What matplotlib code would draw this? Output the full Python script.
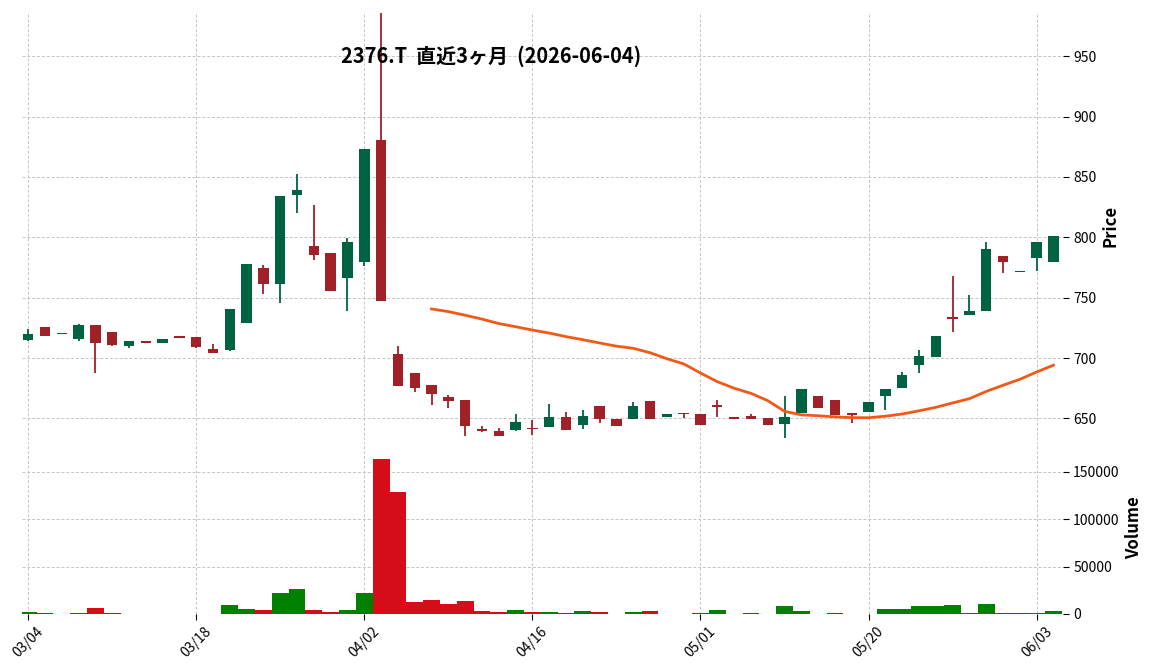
import numpy as np
import pandas as pd
import matplotlib
matplotlib.use("Agg")
import matplotlib.pyplot as plt

# trading days (2026)
dates = ["03/04", "03/05", "03/06", "03/09", "03/10", "03/11", "03/12", "03/13", "03/16", "03/17",
         "03/18", "03/19", "03/23", "03/24", "03/25", "03/26", "03/27", "03/30", "03/31", "04/01",
         "04/02", "04/03", "04/06", "04/07", "04/08", "04/09", "04/10", "04/13", "04/14", "04/15",
         "04/16", "04/17", "04/20", "04/21", "04/22", "04/23", "04/24", "04/27", "04/28", "04/30",
         "05/01", "05/07", "05/08", "05/11", "05/12", "05/13", "05/14", "05/15", "05/18", "05/19",
         "05/20", "05/21", "05/22", "05/25", "05/26", "05/27", "05/28", "05/29", "06/01", "06/02",
         "06/03", "06/04"]

opens = [715.2, 725.5, 720.5, 716.0, 727.0, 721.3, 710.2, 713.3, 712.7, 717.5,
         717.7, 707.8, 706.9, 729.4, 774.2, 761.0, 835.0, 793.2, 786.6, 766.0,
         779.9, 880.5, 703.7, 688.0, 677.7, 667.7, 665.2, 640.3, 639.5, 640.3,
         641.7, 642.8, 651.1, 644.5, 660.2, 649.7, 649.7, 664.7, 651.1, 654.2,
         653.6, 660.2, 650.3, 652.0, 650.5, 645.3, 654.7, 668.8, 665.2, 653.6,
         655.3, 668.8, 675.5, 694.6, 701.2, 733.1, 735.3, 738.6, 784.9, 771.0,
         782.7, 779.9]
highs = [724.0, 725.5, 720.5, 728.0, 727.0, 721.3, 713.8, 713.3, 716.0, 717.5,
         717.7, 712.0, 741.0, 777.6, 777.3, 834.0, 852.8, 827.0, 786.6, 799.6,
         873.0, 985.5, 709.6, 688.0, 677.7, 669.4, 665.2, 643.6, 641.7, 653.3,
         648.6, 661.6, 655.0, 657.0, 660.2, 649.7, 663.6, 664.7, 653.6, 654.2,
         653.6, 665.2, 650.3, 654.0, 650.5, 668.3, 674.4, 668.8, 665.2, 653.6,
         663.6, 674.4, 688.8, 706.8, 718.4, 767.7, 752.0, 796.3, 784.9, 772.4,
         795.7, 801.0]
lows = [714.0, 718.6, 720.5, 714.0, 687.5, 710.0, 708.0, 713.3, 712.7, 717.5,
        708.0, 704.4, 706.0, 729.4, 753.0, 745.7, 820.4, 781.0, 755.8, 738.6,
        776.0, 747.5, 676.9, 672.0, 661.0, 659.0, 635.6, 639.0, 635.3, 640.0,
        636.0, 642.8, 640.3, 641.4, 646.4, 643.6, 649.7, 649.7, 651.1, 650.5,
        644.5, 650.8, 650.3, 649.7, 644.5, 634.2, 654.7, 658.9, 652.8, 646.0,
        655.3, 656.6, 675.0, 687.4, 701.2, 721.5, 735.3, 738.6, 770.5, 771.0,
        772.4, 779.9]
closes = [719.7, 718.6, 720.5, 727.0, 712.7, 711.0, 713.8, 713.3, 716.0, 717.5,
          709.4, 704.4, 741.0, 777.6, 761.0, 834.0, 839.0, 785.7, 755.8, 795.7,
          873.0, 747.5, 676.9, 675.5, 670.2, 664.7, 643.6, 640.3, 635.3, 647.0,
          641.7, 651.1, 640.3, 651.9, 649.4, 643.6, 660.2, 649.7, 653.6, 654.2,
          644.5, 660.2, 650.3, 649.7, 644.5, 651.1, 674.4, 658.9, 652.8, 653.6,
          663.6, 674.4, 686.0, 701.8, 718.4, 733.1, 739.2, 790.4, 779.4, 772.4,
          795.7, 801.0]
volumes = [2100, 1000, 0, 1000, 6600, 1000, 300, 0, 300, 0,
           300, 300, 9400, 5200, 4200, 22000, 26200, 4200, 2100, 4200,
           22000, 163300, 128800, 12600, 14700, 10500, 13600, 3100, 2100, 4200,
           2100, 2100, 1000, 3100, 2100, 200, 2100, 3100, 200, 0,
           1000, 4200, 0, 1000, 200, 8700, 3100, 200, 1000, 0,
           200, 5200, 5200, 8700, 8700, 9800, 1000, 10800, 1000, 1000,
           1000, 3100]

title = "2376.T  直近3ヶ月  (2026-06-04)"

up_c, down_c = "#006340", "#a02128"
vup_c, vdown_c = "#008000", "#d50d18"
ma_c = "#f05a16"
jp = ["Noto Sans CJK JP", "DejaVu Sans"]
plt.rcParams["font.family"] = jp

o = np.array(opens)
h = np.array(highs)
l = np.array(lows)
c = np.array(closes)
v = np.array(volumes)
x = np.arange(len(c))

ccol = [up_c if cc > oo else down_c for oo, cc in zip(o, c)]
prev = np.r_[c[0] - 1, c[:-1]]
vcol = [vup_c if cc > pp else vdown_c for pp, cc in zip(prev, c)]
ma25 = pd.Series(c).rolling(25).mean()

fig = plt.figure(figsize=(11.52, 6.70), dpi=100)
ax = fig.add_axes([0.019, 0.343, 0.9035, 0.639])
axv = fig.add_axes([0.019, 0.0836, 0.9035, 0.2564], sharex=ax)

gridkw = dict(linestyle=(0, (3, 2)), color="#c4c4c4", linewidth=0.7)

# candles
ax.vlines(x, l, h, colors=ccol, linewidth=1.3, zorder=3)
body = np.maximum(np.abs(c - o), 1.3)
ax.bar(x, body, bottom=np.minimum(o, c) - np.where(np.abs(c - o) < 1.3, 0.65, 0),
       width=0.62, color=ccol, linewidth=0, zorder=4)
ax.plot(x, ma25, color=ma_c, linewidth=2.0, zorder=5)

ax.set_xlim(-0.37, 61.55)
ax.set_ylim(632, 986.5)
ax.set_yticks([650, 700, 750, 800, 850, 900, 950])
ax.yaxis.tick_right()
ax.yaxis.set_label_position("right")
ax.set_ylabel("Price", fontsize=12, fontweight="bold", labelpad=4)
ax.tick_params(axis="x", bottom=False, labelbottom=False)
ax.tick_params(axis="y", length=4, labelsize=10)
ax.grid(True, **gridkw)
ax.set_axisbelow(True)
for s in ax.spines.values():
    s.set_visible(False)

# volume
axv.bar(x, v, width=1.0, color=vcol, linewidth=0, zorder=3)
axv.set_ylim(0, 181000)
axv.set_yticks([0, 50000, 100000, 150000])
axv.ticklabel_format(axis="y", style="plain")
axv.yaxis.tick_right()
axv.yaxis.set_label_position("right")
axv.set_ylabel("Volume", fontsize=12, fontweight="bold", labelpad=4)
tick_pos = list(range(0, len(dates), 10))
axv.set_xticks(tick_pos)
axv.set_xticklabels([dates[i] for i in tick_pos], rotation=45, ha="center")
axv.tick_params(axis="x", length=4, labelsize=10)
axv.tick_params(axis="y", length=4, labelsize=10)
axv.grid(True, **gridkw)
axv.set_axisbelow(True)
for s in axv.spines.values():
    s.set_visible(False)

fig.text(491 / 1152, 1 - 56 / 670, title, ha="center", va="center",
         fontsize=14.4, fontweight="bold")

fig.savefig("out.png", dpi=100)
